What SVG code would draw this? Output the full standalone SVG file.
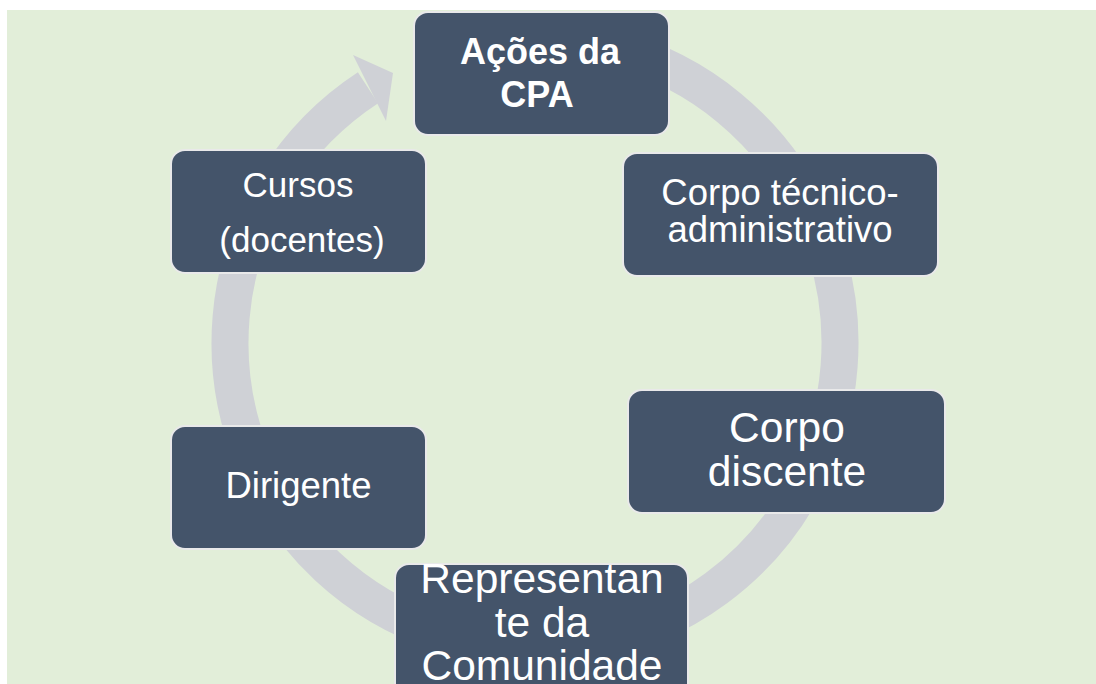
<svg xmlns="http://www.w3.org/2000/svg" width="1096" height="684" viewBox="0 0 1096 684">
  <style>
    .node { fill: #44546A; stroke: #E9E9EA; stroke-width: 2; }
    .t { fill: #FFFFFF; font-family: "Liberation Sans", Arial, sans-serif; text-anchor: middle; }
    .ring { fill: none; stroke: #CFD1D6; stroke-width: 37; }
  </style>
  <rect x="0" y="0" width="1096" height="684" fill="#FFFFFF"/>
  <rect x="7" y="10" width="1089" height="674" fill="#E2EED9"/>
  <g id="connectors">
    <path class="ring" d="M 613.9 48.4 A 305 305 0 1 1 368.0 87.8"/>
    <polygon points="353,55 393,73 386,121" fill="#CFD1D6"/>
  </g>
  <g id="node-acoes">
    <rect class="node" x="414" y="12" width="255" height="123" rx="14"/>
    <text class="t" x="540" y="64" font-size="36" font-weight="bold">Ações da</text>
    <text class="t" x="537" y="107" font-size="36" font-weight="bold">CPA</text>
  </g>
  <g id="node-tecnico">
    <rect class="node" x="623" y="153" width="315" height="123" rx="14"/>
    <text class="t" x="780" y="205" font-size="36.5">Corpo técnico-</text>
    <text class="t" x="780" y="242" font-size="36.5">administrativo</text>
  </g>
  <g id="node-discente">
    <rect class="node" x="628" y="390" width="317" height="123" rx="14"/>
    <text class="t" x="787" y="442" font-size="42.5">Corpo</text>
    <text class="t" x="787" y="486" font-size="42.5">discente</text>
  </g>
  <g id="node-representante">
    <rect class="node" x="395" y="564" width="293" height="140" rx="14"/>
    <text class="t" x="542" y="593" font-size="42.5">Representan</text>
    <text class="t" x="542" y="637" font-size="42.5">te da</text>
    <text class="t" x="542" y="680" font-size="42.5">Comunidade</text>
  </g>
  <g id="node-dirigente">
    <rect class="node" x="171" y="426" width="255" height="123" rx="14"/>
    <text class="t" x="298.5" y="498" font-size="36.5">Dirigente</text>
  </g>
  <g id="node-cursos">
    <rect class="node" x="171" y="150" width="255" height="123" rx="14"/>
    <text class="t" x="298" y="197" font-size="35">Cursos</text>
    <text class="t" x="302" y="252" font-size="35">(docentes)</text>
  </g>
</svg>
